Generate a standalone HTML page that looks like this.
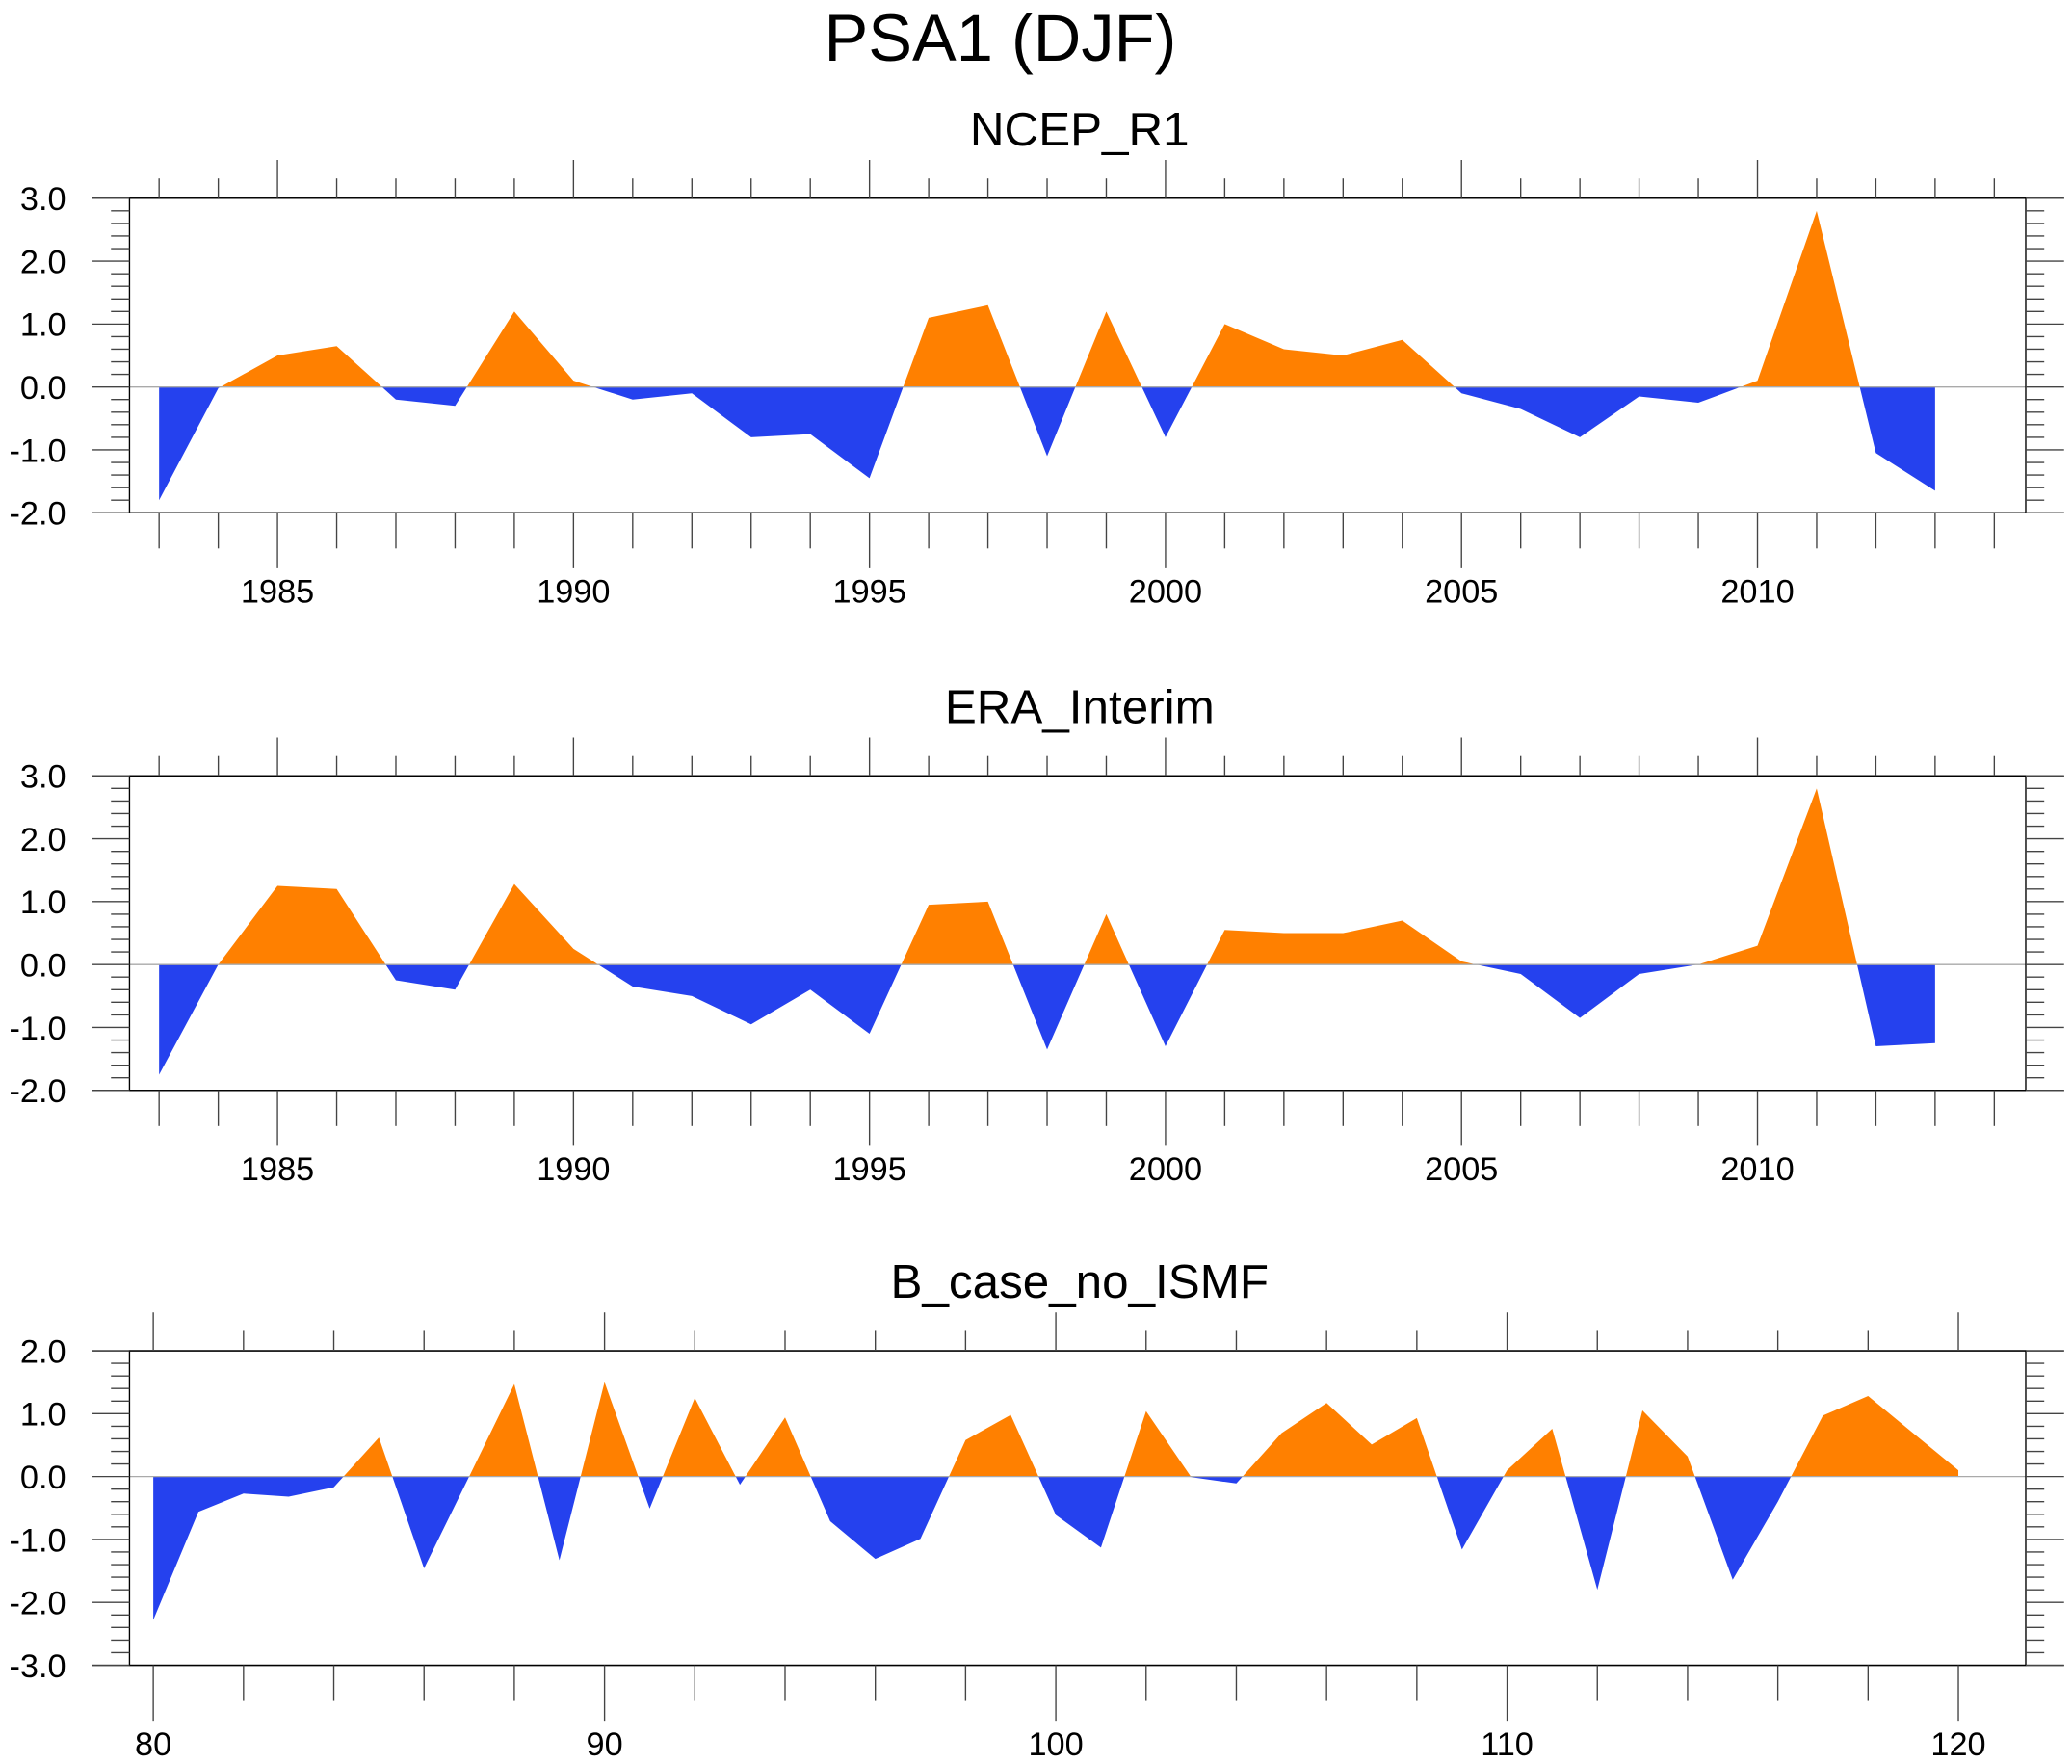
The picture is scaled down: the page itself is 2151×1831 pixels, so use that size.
<!DOCTYPE html>
<html><head><meta charset="utf-8"><title>PSA1 (DJF)</title>
<style>html,body{margin:0;padding:0;background:#fff}svg{display:block}</style></head>
<body>
<svg id="chart" xmlns="http://www.w3.org/2000/svg" width="2151" height="1831" viewBox="0 0 1568 1334.7" preserveAspectRatio="none" font-family="'Liberation Sans', sans-serif">
<rect width="1568" height="1334.7" fill="#fff"/>
<text x="757" y="46" font-size="50" text-anchor="middle">PSA1 (DJF)</text>
</svg>
<script>
const ncepYears = [1983,1984,1985,1986,1987,1988,1989,1990,1991,1992,1993,1994,1995,1996,1997,1998,1999,2000,2001,2002,2003,2004,2005,2006,2007,2008,2009,2010,2011,2012,2013];
const ncepValues = [-1.8,-0.02,0.5,0.65,-0.2,-0.3,1.2,0.1,-0.2,-0.1,-0.8,-0.75,-1.45,1.1,1.3,-1.1,1.2,-0.8,1.0,0.6,0.5,0.75,-0.1,-0.35,-0.8,-0.15,-0.25,0.1,2.8,-1.05,-1.65];
const eraValues = [-1.75,0.0,1.25,1.2,-0.25,-0.4,1.28,0.25,-0.35,-0.5,-0.95,-0.4,-1.1,0.95,1.0,-1.35,0.8,-1.3,0.55,0.5,0.5,0.7,0.05,-0.15,-0.85,-0.15,0.0,0.3,2.8,-1.3,-1.25];
const bcaseYears = [80,81,82,83,84,85,86,87,88,89,90,91,92,93,94,95,96,97,98,99,100,101,102,103,104,105,106,107,108,109,110,111,112,113,114,115,116,117,118,119,120];
const bcaseValues = [-2.28,-0.56,-0.27,-0.32,-0.17,0.62,-1.46,0.0,1.47,-1.33,1.5,-0.51,1.25,-0.13,0.94,-0.71,-1.31,-0.99,0.58,0.98,-0.61,-1.13,1.04,-0.01,-0.11,0.69,1.17,0.51,0.93,-1.16,0.1,0.76,-1.8,1.05,0.32,-1.64,-0.4,0.97,1.28,0.69,0.1];
const yearTicks1 = [1985,1990,1995,2000,2005,2010];
const yTicks1 = [-2,-1,0,1,2,3];
const xTicks3 = [80,90,100,110,120];
const yTicks3 = [-3,-2,-1,0,1,2];

const NS='http://www.w3.org/2000/svg';
const svg=document.getElementById('chart');
function el(tag,attrs,parent){const e=document.createElementNS(NS,tag);for(const k in attrs)e.setAttribute(k,attrs[k]);(parent||svg).appendChild(e);return e;}

let clipId=0;
function panel(cfg){
  const g=el('g',{});
  
  
  const L=98,R=1533,T=cfg.top,B=cfg.top+238;
  const xs=v=>cfg.x0px+(v-cfg.x0)*(cfg.x1px-cfg.x0px)/(cfg.x1-cfg.x0);
  const ys=v=>B-(v-cfg.ymin)*(B-T)/(cfg.ymax-cfg.ymin);
  const t=el('text',{x:817,y:T-40,'font-size':36,'text-anchor':'middle'},g);
  t.textContent=cfg.title;
  
  
  // fill
  const y0=ys(0);
  let d='M'+xs(cfg.xv[0])+','+y0;
  cfg.xv.forEach((x,i)=>{d+=' L'+xs(x)+','+ys(cfg.yv[i]);});
  d+=' L'+xs(cfg.xv[cfg.xv.length-1])+','+y0+' Z';
  const idA='ca'+(clipId++), idB='cb'+(clipId++);
  const defs=el('defs',{},g);
  const ca=el('clipPath',{id:idA},defs); el('rect',{x:0,y:0,width:1568,height:y0},ca);
  const cb=el('clipPath',{id:idB},defs); el('rect',{x:0,y:y0,width:1568,height:1400},cb);
  const pos=el('path',{d:d,fill:'#FF8000','clip-path':'url(#'+idA+')'},g);
  
  
  const neg=el('path',{d:d,fill:'#2541EE','clip-path':'url(#'+idB+')'},g);
  
  
  const zl=el('line',{x1:L,x2:R,y1:y0,y2:y0,stroke:'#aaa','stroke-width':1},g);
  
  
  // frame
  const fr=el('rect',{x:L,y:T,width:R-L,height:B-T,fill:'none',stroke:'#000','stroke-width':1},g);
  
  
  el('line',{x1:70,x2:1562,y1:T,y2:T,stroke:'#000','stroke-width':1},g);
  el('line',{x1:70,x2:1562,y1:B,y2:B,stroke:'#000','stroke-width':1},g);
  // y ticks
  for(let v=cfg.ymin;v<=cfg.ymax+1e-9;v+=0.2){
    const y=ys(v);const major=Math.abs(v-Math.round(v))<1e-6;
    el('line',{x1:major?70:84,x2:L,y1:y,y2:y,stroke:'#444','stroke-width':1},g);
    el('line',{x1:R,x2:major?1562:1547,y1:y,y2:y,stroke:'#444','stroke-width':1},g);
  }
  cfg.yt.forEach(v=>{
    const lt=el('text',{x:50,y:ys(v)+9,'font-size':25,'text-anchor':'end'},g);
    lt.textContent=v.toFixed(1);
    
    
  });
  // x ticks
  for(let v=cfg.minorStart;v<=cfg.minorEnd;v+=cfg.minorStep){
    const x=xs(v);const major=cfg.xt.includes(v);
    el('line',{x1:x,x2:x,y1:B,y2:B+(major?42:27),stroke:'#444','stroke-width':1},g);
    el('line',{x1:x,x2:x,y1:T,y2:T-(major?29:15),stroke:'#444','stroke-width':1},g);
  }
  cfg.xt.forEach(v=>{
    const lt=el('text',{x:xs(v),y:B+68,'font-size':25,'text-anchor':'middle'},g);
    lt.textContent=String(v);
    
    
  });
}
panel({name:'ncep-r1',title:'NCEP_R1',top:150,xv:ncepYears,yv:ncepValues,x0:1985,x1:1990,x0px:210,x1px:434,ymin:-2,ymax:3,yt:yTicks1,xt:yearTicks1,minorStart:1983,minorEnd:2014,minorStep:1});
panel({name:'era-interim',title:'ERA_Interim',top:587,xv:ncepYears,yv:eraValues,x0:1985,x1:1990,x0px:210,x1px:434,ymin:-2,ymax:3,yt:yTicks1,xt:yearTicks1,minorStart:1983,minorEnd:2014,minorStep:1});
panel({name:'b-case-no-ismf',title:'B_case_no_ISMF',top:1022,xv:bcaseYears,yv:bcaseValues,x0:80,x1:120,x0px:116,x1px:1482,ymin:-3,ymax:2,yt:yTicks3,xt:xTicks3,minorStart:80,minorEnd:120,minorStep:2});
</script>
</body></html>
